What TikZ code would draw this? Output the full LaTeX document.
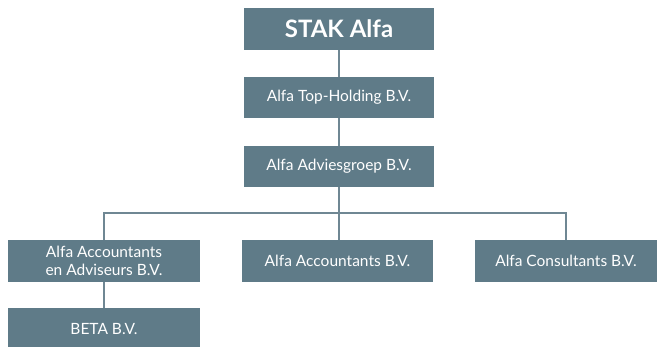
\documentclass[tikz,border=0pt]{standalone}
\usepackage{fontspec}
\setmainfont{Lato}
\definecolor{boxc}{HTML}{5F7B88}
\definecolor{linec}{HTML}{6F8793}
\begin{document}
\begin{tikzpicture}[x=1pt,y=-1pt,
  orgbox/.style={fill=boxc,draw=none,text=white,inner sep=0pt,align=center,font=\fontsize{15.5}{18}\selectfont},
  conn/.style={draw=linec,line width=1.6pt}]
\useasboundingbox[fill=white] (0,0) rectangle (658,347);
\node[orgbox,minimum width=190pt,minimum height=42pt,font=\fontsize{24}{28}\bfseries] (stak) at (339,29) {STAK Alfa};
\node[orgbox,minimum width=190pt,minimum height=41pt] (top) at (339,97.5) {Alfa Top-Holding B.V.};
\node[orgbox,minimum width=190pt,minimum height=41pt] (adv) at (339,166.5) {Alfa Adviesgroep B.V.};
\node[orgbox,minimum width=192pt,minimum height=42pt] (aa) at (104,261) {Alfa Accountants\\en Adviseurs B.V.};
\node[orgbox,minimum width=191pt,minimum height=42pt] (acc) at (337.5,261) {Alfa Accountants B.V.};
\node[orgbox,minimum width=182pt,minimum height=42pt] (con) at (566,261) {Alfa Consultants B.V.};
\node[orgbox,minimum width=192pt,minimum height=42pt] (beta) at (104,329) {BETA B.V.};
\coordinate (bus) at (0,213);
\draw[conn] (stak.south) -- (top.north);
\draw[conn] (top.south) -- (adv.north);
\draw[conn] (adv.south) -- (adv.south |- bus) -- (acc.north -| adv.south);
\draw[conn] (aa.north) |- (bus -| con.north) -- (con.north);
\draw[conn] (aa.south) -- (beta.north);
\end{tikzpicture}
\end{document}
